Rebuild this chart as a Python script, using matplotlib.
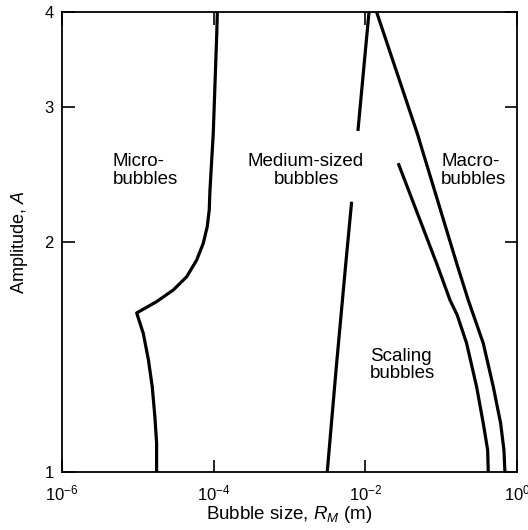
import numpy as np
import matplotlib
matplotlib.use("Agg")
import matplotlib.pyplot as plt
from matplotlib.ticker import FixedLocator, NullLocator, LogFormatterMathtext

plt.rcParams["font.family"] = ["Liberation Sans", "DejaVu Sans"]
plt.rcParams["mathtext.fontset"] = "custom"
plt.rcParams["mathtext.rm"] = "Liberation Sans"
plt.rcParams["mathtext.it"] = "Liberation Sans:italic"

# Boundary between micro-bubbles and medium-sized bubbles
micro_x = [1.77e-5, 1.77e-5, 1.68e-5, 1.55e-5, 1.38e-5, 1.18e-5, 9.66e-6,
           1.77e-5, 2.94e-5, 4.41e-5, 5.97e-5, 7.30e-5, 8.24e-5, 8.75e-5,
           8.95e-5, 9.89e-5, 1.10e-4, 1.12e-4]
micro_a = [1.00, 1.090, 1.181, 1.293, 1.402, 1.519, 1.615,
           1.671, 1.731, 1.801, 1.894, 1.992, 2.095, 2.203,
           2.339, 2.776, 3.752, 4.00]

# Boundary between medium-sized and scaling bubbles (two pieces, text in the gap)
medium_low_x = [3.15e-3, 4.17e-3, 5.51e-3, 6.61e-3]
medium_low_a = [1.00, 1.380, 1.866, 2.258]
medium_high_x = [8.0e-3, 1.12e-2]
medium_high_a = [2.795, 4.00]

# Outer boundary of macro-bubbles
macro_x = [1.41e-2, 4.84e-2, 0.163, 0.228, 0.360, 0.488, 0.610, 0.674, 0.695]
macro_a = [4.00, 2.776, 1.866, 1.679, 1.474, 1.293, 1.158, 1.069, 1.00]

# Boundary between scaling bubbles and macro-bubbles
scaling_x = [2.72e-2, 8.89e-2, 0.131, 0.163, 0.217, 0.294, 0.360, 0.411, 0.419]
scaling_a = [2.536, 1.866, 1.679, 1.605, 1.474, 1.293, 1.158, 1.069, 1.00]

x_ticks = [1e-6, 1e-4, 1e-2, 1e0]
y_ticks = [1, 2, 3, 4]

fig = plt.figure(figsize=(5.28, 5.30), dpi=100)
ax = fig.add_axes([0.1174, 0.1094, 0.979 - 0.1174, 0.9774 - 0.1094])

lw = 2.3
for xs, ys in [(micro_x, micro_a), (medium_low_x, medium_low_a),
               (medium_high_x, medium_high_a), (macro_x, macro_a),
               (scaling_x, scaling_a)]:
    ax.plot(xs, ys, color="black", linewidth=lw, solid_capstyle="butt",
            solid_joinstyle="round", clip_on=False)

ax.set_xscale("log")
ax.set_yscale("log")
ax.set_xlim(1e-6, 1e0)
ax.set_ylim(1, 4)

ax.xaxis.set_major_locator(FixedLocator(x_ticks))
ax.xaxis.set_major_formatter(LogFormatterMathtext())
ax.xaxis.set_minor_locator(NullLocator())
ax.yaxis.set_major_locator(FixedLocator(y_ticks))
ax.yaxis.set_major_formatter(plt.FuncFormatter(lambda v, p: f"{int(v)}"))
ax.yaxis.set_minor_locator(NullLocator())

ax.tick_params(direction="in", length=9, width=1.2, top=True, right=True,
               labelsize=12, pad=8)
ax.tick_params(axis="y", pad=6)
for s in ax.spines.values():
    s.set_linewidth(1.3)

ax.set_xlabel("Bubble size, $R_M$ (m)", fontsize=13.5, labelpad=1)
ax.set_ylabel("Amplitude, $A$", fontsize=13, labelpad=10)

fs = 13.5
ax.text(4.7e-6, 2.48, "Micro-\nbubbles", fontsize=fs, ha="left", va="center",
        linespacing=1.05)
ax.text(1.65e-3, 2.48, "Medium-sized\nbubbles", fontsize=fs, ha="center",
        va="center", linespacing=1.05)
ax.text(0.1, 2.48, "Macro-\nbubbles", fontsize=fs, ha="left", va="center",
        linespacing=1.05)
ax.text(1.15e-2, 1.38, "Scaling\nbubbles", fontsize=fs, ha="left", va="center",
        linespacing=1.05)

fig.savefig("out.png", dpi=100)
